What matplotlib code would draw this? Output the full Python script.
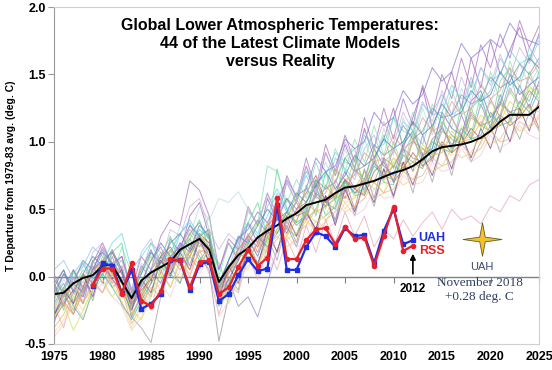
import numpy as np
import matplotlib
matplotlib.use("Agg")
import matplotlib.pyplot as plt
from matplotlib.path import Path

plt.rcParams['font.family'] = ['Liberation Sans', 'DejaVu Sans']

years = list(range(1975, 2026))
obs_years = list(range(1979, 2013))

# model mean (black line)
model_mean = [-0.13, -0.12, -0.05, -0.01, 0.01, 0.08, 0.09, -0.04, -0.16, -0.03,
              0.03, 0.07, 0.11, 0.20, 0.24, 0.28, 0.20, -0.04, 0.07, 0.16,
              0.21, 0.29, 0.34, 0.38, 0.43, 0.47, 0.53, 0.55, 0.57, 0.62,
              0.66, 0.67, 0.69, 0.71, 0.74, 0.77, 0.79, 0.82, 0.87, 0.93,
              0.96, 0.97, 0.98, 1.00, 1.03, 1.08, 1.15, 1.20, 1.20, 1.20, 1.26]

uah = [-0.07, 0.10, 0.08, -0.12, 0.05, -0.24, -0.20, -0.13, 0.12, 0.12,
       -0.10, 0.09, 0.11, -0.18, -0.13, 0.01, 0.13, 0.04, 0.06, 0.53,
       0.05, 0.05, 0.22, 0.33, 0.30, 0.22, 0.36, 0.30, 0.31, 0.10,
       0.34, 0.50, 0.24, 0.27]
rss = [-0.06, 0.06, 0.06, -0.13, 0.10, -0.18, -0.22, -0.11, 0.13, 0.12,
       -0.08, 0.11, 0.12, -0.13, -0.08, 0.07, 0.20, 0.08, 0.14, 0.58,
       0.13, 0.13, 0.27, 0.35, 0.36, 0.24, 0.37, 0.28, 0.29, 0.08,
       0.30, 0.52, 0.19, 0.23]

# individual model runs 1975-2025, read approximately
models = [
    [-0.05, -0.22, 0.05, -0.08, 0.10, 0.25, 0.08, 0.15, -0.12, 0.05, 0.20, 0.02, 0.28, 0.18, 0.45,
     0.55, 0.30, 0.05, 0.25, 0.12, 0.40, 0.25, 0.58, 0.42, 0.70, 0.55, 0.82, 0.60, 0.92, 0.75,
     0.98, 0.80, 1.10, 0.88, 1.02, 1.25, 0.95, 1.18, 1.40, 1.10, 1.30, 1.52, 1.25, 1.62, 1.40,
     1.75, 1.50, 1.68, 1.85, 1.60, 1.80],
    [-0.28, -0.18, -0.02, 0.10, -0.05, 0.02, 0.18, 0.05, -0.30, -0.15, 0.05, 0.15, 0.02, -0.05, 0.20,
     0.35, 0.28, -0.15, -0.05, 0.15, 0.22, 0.10, 0.28, 0.48, 0.35, 0.30, 0.55, 0.68, 0.45, 0.52,
     0.72, 0.60, 0.62, 0.85, 0.70, 0.68, 0.92, 1.05, 0.82, 0.90, 1.15, 1.05, 0.98, 1.25, 1.32,
     1.12, 1.20, 1.45, 1.38, 1.30, 1.52],
    [-0.05, -0.25, 0.05, -0.15, 0.12, 0.00, 0.18, 0.25, -0.20, -0.05, -0.15, 0.15, 0.30, 0.08, 0.28,
     0.42, 0.20, 0.10, -0.10, 0.25, 0.40, 0.55, 0.30, 0.80, 0.50, 0.40, 0.68, 0.45, 0.78, 0.55,
     0.88, 0.95, 0.62, 0.85, 1.05, 0.80, 0.98, 1.15, 0.85, 0.95, 1.20, 0.92, 1.28, 1.05, 1.35,
     1.10, 1.45, 1.55, 1.20, 1.52, 1.35],
    [-0.22, -0.38, -0.10, -0.20, -0.02, -0.12, 0.08, -0.22, -0.30, -0.12, -0.25, 0.05, -0.08, 0.12, 0.00,
     0.20, 0.02, -0.28, -0.05, -0.12, 0.15, -0.02, 0.22, 0.05, 0.28, 0.12, 0.38, 0.18, 0.42, 0.25,
     0.48, 0.30, 0.45, 0.22, 0.35, 0.28, 0.42, 0.30, 0.40, 0.48, 0.35, 0.50, 0.42, 0.45, 0.39,
     0.52, 0.48, 0.60, 0.56, 0.68, 0.72],
    [-0.35, -0.12, -0.28, 0.02, -0.18, 0.10, -0.08, -0.02, -0.30, -0.38, -0.49, -0.15, 0.08, -0.05, 0.15,
     0.05, 0.22, -0.20, 0.00, -0.10, 0.25, 0.10, 0.30, 0.12, 0.42, 0.25, 0.52, 0.30, 0.60, 0.40,
     0.68, 0.45, 0.72, 0.52, 0.80, 0.58, 0.85, 0.62, 0.92, 0.70, 0.98, 0.75, 1.05, 0.85, 1.00,
     1.12, 0.92, 1.18, 1.02, 1.22, 1.08],
    [0.05, 0.12, -0.02, 0.08, 0.22, 0.15, 0.05, 0.12, -0.10, 0.02, 0.25, 0.18, 0.10, 0.32, 0.40,
     0.22, 0.30, -0.12, 0.05, 0.28, 0.38, 0.30, 0.45, 0.62, 0.48, 0.55, 0.75, 0.60, 0.65, 0.88,
     0.80, 0.72, 0.95, 1.05, 0.85, 0.92, 1.15, 1.08, 0.98, 1.22, 1.35, 1.20, 1.25, 1.48, 1.30,
     1.38, 1.62, 1.50, 1.45, 1.70, 1.58],
    [-0.12, -0.20, -0.28, -0.10, 0.05, 0.08, -0.02, -0.12, -0.08, -0.18, 0.02, 0.12, 0.08, 0.22, 0.15,
     0.30, 0.25, -0.15, 0.05, 0.12, 0.25, 0.18, 0.32, 0.42, 0.30, 0.42, 0.55, 0.48, 0.52, 0.68,
     0.58, 0.65, 0.78, 0.70, 0.75, 0.88, 0.80, 0.85, 0.95, 0.90, 0.92, 1.05, 1.00, 1.02, 1.15,
     1.08, 1.12, 1.22, 1.18, 1.20, 1.28],
    [-0.42, -0.32, -0.15, -0.25, -0.08, 0.05, -0.05, -0.18, -0.38, -0.25, -0.10, 0.05, 0.12, -0.02, 0.10,
     0.25, 0.12, -0.15, -0.02, 0.10, 0.05, 0.22, 0.32, 0.18, 0.30, 0.48, 0.40, 0.35, 0.58, 0.65,
     0.50, 0.60, 0.78, 0.70, 0.62, 0.85, 0.92, 0.78, 0.88, 1.02, 0.95, 0.90, 1.12, 1.05, 0.98,
     1.20, 1.28, 1.15, 1.22, 1.40, 1.35],
    [-0.15, 0.02, -0.05, 0.12, 0.05, 0.22, 0.10, 0.15, -0.10, 0.15, 0.05, 0.30, 0.42, 0.38, 0.71,
     0.64, 0.45, 0.05, 0.28, 0.20, 0.52, 0.38, 0.62, 0.45, 0.75, 0.58, 0.88, 0.65, 0.98, 0.78,
     1.05, 0.85, 1.18, 0.95, 1.25, 1.02, 1.32, 1.12, 1.42, 1.20, 1.50, 1.32, 1.62, 1.40, 1.72,
     1.55, 1.80, 1.62, 1.90, 1.70, 1.86],
    [-0.18, -0.02, -0.15, 0.08, 0.00, 0.12, 0.02, 0.08, -0.15, 0.10, 0.02, 0.25, 0.15, 0.38, 0.30,
     0.52, 0.42, 0.58, 0.55, 0.63, 0.50, 0.38, 0.60, 0.48, 0.70, 0.55, 0.78, 0.62, 0.85, 0.68,
     0.95, 0.75, 1.02, 0.82, 1.10, 0.90, 1.18, 0.98, 1.25, 1.05, 1.32, 1.10, 1.40, 1.20, 1.45,
     1.28, 1.52, 1.35, 1.58, 1.42, 1.55],
    [-0.28, -0.15, -0.05, -0.12, 0.05, 0.12, -0.02, -0.10, -0.25, -0.08, 0.05, -0.05, 0.12, 0.25, 0.18,
     0.30, 0.35, -0.18, -0.02, 0.12, 0.28, 0.15, 0.35, 0.42, 0.58, 0.45, 0.48, 0.70, 0.55, 0.62,
     0.78, 0.65, 0.72, 0.95, 0.82, 0.75, 0.98, 1.08, 0.90, 0.95, 1.22, 1.10, 1.05, 1.30, 1.38,
     1.18, 1.28, 1.50, 1.35, 1.42, 1.48],
    [-0.02, -0.12, -0.25, -0.08, 0.05, 0.12, 0.02, -0.05, -0.22, -0.12, 0.00, 0.10, 0.20, 0.08, 0.15,
     0.30, 0.22, -0.08, 0.02, 0.18, 0.12, 0.25, 0.40, 0.32, 0.45, 0.55, 0.42, 0.50, 0.68, 0.58,
     0.62, 0.80, 0.72, 0.70, 0.88, 0.82, 0.78, 1.00, 0.95, 0.88, 1.08, 1.02, 0.98, 1.18, 1.12,
     1.08, 1.28, 1.22, 1.20, 1.35, 1.42],
    [-0.32, -0.20, -0.10, 0.02, -0.05, 0.12, 0.18, 0.02, -0.20, -0.10, -0.02, 0.15, 0.22, 0.10, 0.18,
     0.32, 0.25, -0.15, 0.05, 0.20, 0.30, 0.22, 0.38, 0.45, 0.32, 0.50, 0.62, 0.75, 0.55, 0.60,
     0.72, 0.65, 0.60, 0.78, 0.85, 0.70, 0.80, 0.92, 0.82, 0.88, 1.00, 0.92, 0.98, 1.10, 1.02,
     1.08, 1.20, 1.12, 1.18, 1.28, 1.10],
    [-0.05, 0.05, -0.20, -0.08, 0.12, 0.18, 0.02, -0.05, -0.28, -0.15, -0.02, 0.15, 0.08, 0.20, 0.28,
     0.15, 0.05, -0.48, -0.15, 0.02, 0.18, 0.30, 0.22, 0.35, 0.48, 0.38, 0.45, 0.60, 0.52, 0.58,
     0.72, 0.62, 0.70, 0.85, 0.75, 0.82, 0.95, 0.88, 0.85, 1.02, 1.10, 0.98, 1.05, 1.20, 1.12,
     1.15, 1.30, 1.22, 1.25, 1.38, 1.30],
    [0.02, -0.15, -0.05, -0.20, 0.08, -0.05, 0.15, -0.05, -0.15, 0.08, -0.02, 0.12, 0.00, 0.25, 0.08,
     0.30, 0.10, -0.12, -0.02, -0.22, -0.15, -0.30, -0.05, 0.20, 0.38, 0.22, 0.48, 0.35, 0.60, 0.42,
     0.72, 0.50, 0.80, 0.58, 0.88, 0.70, 0.95, 0.78, 1.05, 0.85, 1.12, 0.95, 1.20, 1.02, 1.28,
     1.10, 1.35, 1.18, 1.42, 1.25, 1.45],
    [-0.18, 0.02, -0.08, 0.05, -0.02, 0.12, 0.00, 0.22, 0.02, -0.08, 0.18, 0.05, 0.28, 0.15, 0.38,
     0.28, 0.45, 0.00, 0.25, 0.15, 0.48, 0.40, 0.82, 0.78, 0.55, 0.72, 0.58, 0.85, 0.65, 0.95,
     0.78, 1.02, 0.85, 1.12, 0.90, 1.18, 0.98, 1.22, 1.05, 1.28, 1.12, 1.38, 1.20, 1.45, 1.25,
     1.52, 1.30, 1.60, 1.40, 1.65, 1.50],
    [-0.45, -0.35, -0.20, -0.30, -0.12, -0.05, -0.15, -0.22, -0.40, -0.30, -0.12, -0.05, -0.15, 0.05, 0.10,
     0.02, 0.15, -0.30, -0.18, -0.02, 0.08, 0.15, 0.02, 0.18, 0.30, 0.22, 0.25, 0.42, 0.35, 0.40,
     0.55, 0.45, 0.50, 0.65, 0.58, 0.60, 0.75, 0.68, 0.70, 0.85, 0.78, 0.80, 0.95, 0.85, 0.90,
     1.05, 0.95, 1.00, 1.12, 1.05, 1.02],
    [-0.22, -0.10, 0.02, 0.12, -0.02, 0.10, 0.25, 0.32, 0.05, 0.15, 0.25, 0.10, 0.18, 0.32, 0.42,
     0.30, 0.35, -0.05, 0.12, 0.28, 0.40, 0.32, 0.52, 0.65, 0.50, 0.58, 0.78, 0.70, 0.75, 0.92,
     0.85, 0.82, 1.05, 0.95, 0.98, 1.18, 1.08, 1.05, 1.28, 1.20, 1.22, 1.42, 1.32, 1.35, 1.55,
     1.45, 1.50, 1.68, 1.58, 1.62, 1.78],
    [-0.30, -0.10, -0.20, 0.02, -0.15, 0.10, -0.02, 0.05, -0.25, -0.02, -0.12, 0.12, 0.02, 0.18, 0.05,
     0.28, 0.10, -0.15, 0.08, -0.05, 0.20, 0.08, 0.35, 0.18, 0.45, 0.30, 0.48, 0.35, 0.60, 0.38,
     0.65, 0.48, 0.70, 0.55, 0.80, 0.60, 0.85, 0.68, 0.90, 0.75, 0.98, 0.80, 1.05, 0.88, 1.10,
     0.95, 1.18, 1.00, 1.25, 1.08, 1.30],
    [-0.10, -0.18, -0.28, -0.12, 0.05, 0.10, -0.02, -0.15, -0.12, -0.22, -0.05, 0.10, 0.15, 0.05, 0.22,
     0.28, 0.18, -0.05, 0.05, 0.20, 0.30, 0.25, 0.35, 0.50, 0.42, 0.48, 0.65, 0.58, 0.62, 0.80,
     0.72, 0.75, 0.92, 0.85, 0.88, 1.05, 0.95, 1.00, 1.18, 1.08, 1.12, 1.30, 1.20, 1.25, 1.42,
     1.32, 1.38, 1.55, 1.45, 1.48, 1.58],
    [-0.12, 0.02, -0.10, -0.15, 0.05, 0.20, 0.08, -0.02, -0.22, -0.05, 0.12, 0.25, 0.15, 0.22, 0.38,
     0.30, 0.15, -0.05, 0.12, 0.28, 0.35, 0.48, 0.40, 0.55, 0.72, 0.60, 0.65, 0.88, 0.78, 0.82,
     1.02, 0.95, 1.00, 1.22, 1.12, 1.18, 1.38, 1.28, 1.35, 1.55, 1.45, 1.52, 1.73, 1.62, 1.68,
     1.76, 1.70, 1.88, 1.78, 1.75, 1.72],
    [-0.15, -0.05, -0.22, -0.32, -0.10, 0.02, -0.08, -0.20, -0.32, -0.18, -0.05, 0.08, 0.00, 0.18, 0.25,
     0.12, 0.22, -0.22, -0.10, 0.08, 0.18, 0.30, 0.22, 0.32, 0.48, 0.40, 0.45, 0.62, 0.55, 0.50,
     0.70, 0.62, 0.65, 0.82, 0.75, 0.72, 0.90, 0.85, 0.80, 1.00, 0.95, 0.92, 1.10, 1.02, 1.05,
     1.22, 1.12, 1.15, 1.30, 1.22, 1.38],
    [0.00, -0.10, 0.05, -0.05, 0.18, 0.25, 0.10, 0.12, -0.10, 0.18, 0.28, 0.10, 0.35, 0.30, 0.52,
     0.58, 0.35, 0.20, 0.32, 0.25, 0.50, 0.38, 0.62, 0.45, 0.72, 0.60, 0.82, 0.68, 0.92, 0.75,
     1.00, 0.85, 1.08, 0.95, 1.15, 0.98, 1.22, 1.08, 1.30, 1.15, 1.38, 1.20, 1.48, 1.30, 1.55,
     1.42, 1.65, 1.48, 1.70, 1.58, 1.75],
    [-0.38, -0.28, -0.12, -0.20, -0.05, -0.12, 0.02, -0.10, -0.35, -0.22, -0.08, -0.15, 0.05, 0.15, 0.05,
     0.18, 0.22, -0.18, -0.08, 0.05, 0.12, 0.25, 0.18, 0.28, 0.40, 0.32, 0.38, 0.50, 0.42, 0.48,
     0.60, 0.52, 0.58, 0.70, 0.62, 0.65, 0.78, 0.72, 0.75, 0.88, 0.82, 0.85, 0.98, 0.90, 0.95,
     1.08, 1.00, 1.02, 1.15, 1.10, 1.18],
    [-0.08, 0.05, -0.12, 0.02, 0.15, 0.08, 0.20, 0.05, -0.15, 0.02, 0.18, 0.10, 0.25, 0.32, 0.20,
     0.38, 0.30, -0.08, 0.12, 0.30, 0.25, 0.38, 0.50, 0.42, 0.48, 0.62, 0.55, 0.68, 0.78, 0.65,
     0.75, 0.90, 0.82, 0.88, 1.02, 0.95, 1.00, 1.15, 1.05, 1.12, 1.28, 1.18, 1.22, 1.38, 1.30,
     1.35, 1.52, 1.42, 1.48, 1.62, 1.55],
    [-0.25, -0.08, -0.18, 0.02, -0.08, 0.15, 0.02, -0.10, -0.22, 0.05, 0.15, -0.02, 0.20, 0.10, 0.32,
     0.22, 0.35, -0.12, 0.10, 0.02, 0.28, 0.40, 0.25, 0.52, 0.42, 0.62, 0.45, 0.72, 0.50, 0.80,
     0.65, 0.88, 0.70, 0.95, 0.72, 1.00, 0.80, 1.08, 0.88, 1.12, 0.95, 1.18, 1.02, 1.25, 1.10,
     1.30, 1.18, 1.38, 1.25, 1.42, 1.32],
    [-0.30, -0.20, -0.40, -0.25, -0.10, -0.02, -0.15, -0.05, -0.25, -0.32, -0.15, 0.02, -0.08, 0.10, 0.18,
     0.08, 0.22, -0.05, -0.20, -0.02, 0.15, 0.08, 0.25, 0.35, 0.28, 0.32, 0.48, 0.40, 0.45, 0.62,
     0.55, 0.58, 0.72, 0.65, 0.70, 0.85, 0.78, 0.82, 0.98, 0.90, 0.92, 1.08, 1.00, 1.05, 1.20,
     1.12, 1.15, 1.30, 1.22, 1.25, 1.22],
    [-0.20, -0.08, 0.05, -0.10, 0.02, 0.18, 0.10, 0.02, -0.18, -0.05, 0.12, 0.22, 0.05, 0.18, 0.32,
     0.40, 0.28, -0.10, 0.08, 0.15, 0.30, 0.42, 0.32, 0.45, 0.58, 0.50, 0.55, 0.72, 0.65, 0.70,
     0.88, 0.78, 0.82, 0.98, 0.90, 0.95, 1.12, 1.02, 1.08, 1.25, 1.18, 1.20, 1.35, 1.28, 1.32,
     1.48, 1.40, 1.45, 1.58, 1.50, 1.62],
    [-0.10, -0.22, 0.00, -0.12, 0.05, 0.12, -0.05, 0.08, -0.20, -0.08, 0.05, 0.18, 0.05, 0.22, 0.35,
     0.25, 0.15, -0.12, 0.02, 0.15, 0.32, 0.18, 0.38, 0.52, 0.35, 0.58, 0.42, 0.65, 0.52, 0.72,
     0.58, 0.80, 0.68, 0.88, 0.72, 0.95, 0.80, 1.02, 0.88, 1.10, 0.95, 1.18, 1.05, 1.22, 1.12,
     1.32, 1.18, 1.40, 1.28, 1.48, 1.38],
    [-0.25, -0.15, -0.05, -0.18, -0.10, 0.08, 0.02, -0.12, -0.28, -0.15, 0.00, -0.10, 0.05, 0.12, 0.02,
     0.20, 0.15, -0.18, -0.05, 0.08, 0.15, 0.08, 0.22, 0.30, 0.22, 0.28, 0.42, 0.35, 0.40, 0.55,
     0.48, 0.52, 0.65, 0.58, 0.62, 0.75, 0.68, 0.72, 0.85, 0.78, 0.82, 0.95, 0.88, 0.92, 1.05,
     0.98, 1.02, 1.15, 1.08, 1.12, 1.20],
]

model_colors = ['#9b59b6', '#48c9b0', '#58d68d', '#e6a0b4', '#999999', '#85c1e9',
                '#f5b041', '#f7dc6f', '#a569bd', '#b8d8e0', '#5d6dd6', '#a9a94a',
                '#c0504d', '#8c8c8c', '#8e7cc3', '#82e0aa', '#f4c6d0', '#5dd5e5',
                '#6c3483', '#f1948a', '#7d6fd0', '#45b39d', '#c5b3d6', '#e0b080',
                '#4a7fb5', '#a4d65e', '#d4e157', '#7f8fa6', '#d98cb3', '#f8c471']

fig = plt.figure(figsize=(5.52, 3.70), dpi=100)
ax = fig.add_axes([54 / 552, 26 / 370, 485 / 552, 337 / 370])

for vals, c in zip(models, model_colors):
    ax.plot(years, vals, color=c, lw=0.7, alpha=0.7)

ax.plot(years, model_mean, color='black', lw=1.4)
ax.plot(obs_years, uah, color='#1d2fe0', lw=1.6, marker='s', ms=3)
ax.plot(obs_years, rss, color='#e8202a', lw=1.6, marker='o', ms=3)

ax.set_xlim(1975, 2025)
ax.set_ylim(-0.5, 2.0)
ax.set_xticks(range(1975, 2026, 5))
ax.set_yticks([-0.5, 0.0, 0.5, 1.0, 1.5, 2.0])
ax.set_yticklabels(['%.1f' % v for v in [-0.5, 0.0, 0.5, 1.0, 1.5, 2.0]])
for lab in ax.get_xticklabels() + ax.get_yticklabels():
    lab.set_fontweight('bold')
ax.tick_params(axis='x', length=0, pad=5, labelsize=9)
ax.tick_params(axis='y', length=4, color='#999999', labelsize=9, pad=2)
for s in ['top', 'right', 'bottom']:
    ax.spines[s].set_color('#d0d0d0')
ax.spines['left'].set_color('#999999')

# zero line with ticks
zfrac = (0 - (-0.5)) / 2.5
sec = ax.secondary_xaxis(zfrac)
sec.set_xticks(range(1975, 2026, 5))
sec.set_xticklabels([])
sec.tick_params(length=4, color='#808080', direction='out')
sec.spines['bottom'].set_color('#808080')
sec.spines['bottom'].set_linewidth(1.0)

ax.set_ylabel('T Departure from 1979-83 avg. (deg. C)', fontsize=7.5,
              fontweight='bold', labelpad=6)

ax.text(0.466, 0.893, 'Global Lower Atmospheric Temperatures:\n44 of the Latest Climate Models\nversus Reality',
        transform=ax.transAxes, ha='center', va='center', fontsize=11.5,
        fontweight='bold', linespacing=1.25)

ax.text(2012.6, 0.29, 'UAH', color='#1d2fe0', fontsize=9, fontweight='bold', va='center')
ax.text(2012.6, 0.19, 'RSS', color='#e8202a', fontsize=9, fontweight='bold', va='center')

ax.annotate('', xy=(2012, 0.19), xytext=(2012, 0.0),
            arrowprops=dict(arrowstyle='-|>', color='black', lw=1.2, mutation_scale=8))
ax.text(2012, -0.09, '2012', ha='center', va='center', fontsize=8.5, fontweight='bold')

# four-pointed star for Nov 2018 UAH
r_in = 0.2
star_verts = []
for k in range(8):
    ang = np.pi / 2 + k * np.pi / 4
    r = 1.0 if k % 2 == 0 else r_in
    star_verts.append((r * np.cos(ang), 0.86 * r * np.sin(ang)))
star_verts.append(star_verts[0])
star = Path(star_verts, [Path.MOVETO] + [Path.LINETO] * 7 + [Path.CLOSEPOLY])
ax.plot([2019.1], [0.28], marker=star, ms=28, color='#f2c12e',
        markeredgecolor='#6b5a20', markeredgewidth=0.6)
ax.text(2019.1, 0.07, 'UAH', ha='center', va='center', fontsize=8, color='#3a4a6a')
ax.text(2018.9, -0.10, 'November 2018\n+0.28 deg. C', ha='center', va='center',
        fontsize=9.5, color='#2f3e63', family='Liberation Serif', linespacing=1.2)

fig.savefig('out.png', dpi=100)
